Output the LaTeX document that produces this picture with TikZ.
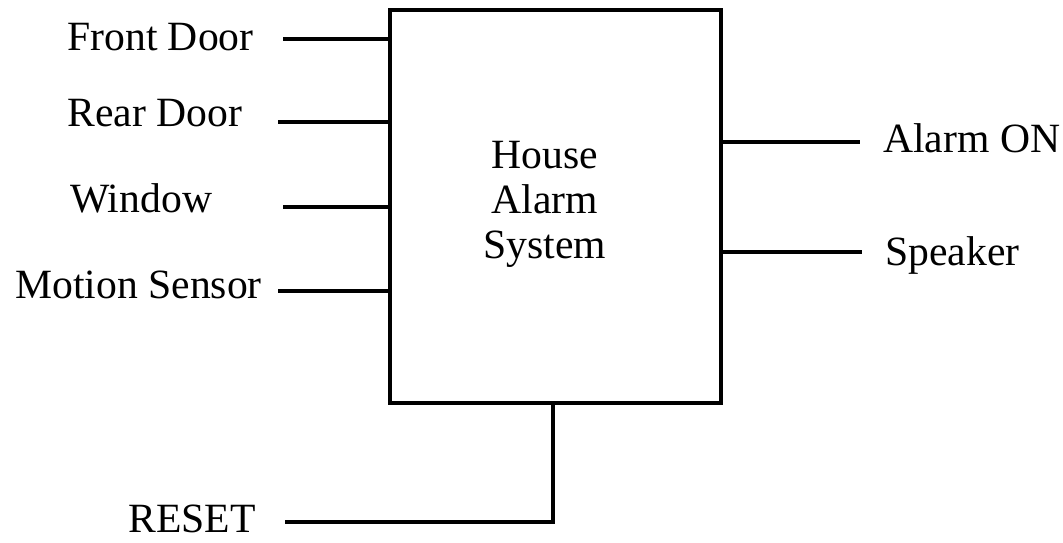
\documentclass[tikz,border=0pt]{standalone}
\usepackage{fontspec}
\setmainfont{Liberation Serif}
\usetikzlibrary{positioning}
\tikzset{
	sigline/.style={draw, line width=1.9pt},
	siglabel/.style={
		font=\fontsize{23.7}{25.6}\selectfont,
		inner sep=0pt,
		anchor=base west},
	block/.style={
		rectangle,
		draw=black, line width=2pt,
		minimum width=6.62cm,
		minimum height=7.86cm,
		inner sep=0pt},
}
\begin{document}
\begin{tikzpicture}
		[x=0.02cm, y=-0.02cm]
		\useasboundingbox (0,0) rectangle (1063,542);
		% the alarm unit
		\node[block] (sys) at (555.5,206.5) {};
		\node[font=\fontsize{23.7}{25.6}\selectfont, align=center, inner sep=0pt] (syslabel) at (545,204) {House\\Alarm\\System};
		% inputs
		\node[siglabel] (frontdoor) at (67,50) {Front Door};
		\node[siglabel] (reardoor) at (67,126) {Rear Door};
		\node[siglabel] (window) at (70,212) {Window};
		\node[siglabel] (motion) at (15,298) {Motion Sensor};
		\node[siglabel] (reset) at (128,532) {RESET};
		% outputs
		\node[siglabel] (alarmon) at (883,152) {Alarm ON};
		\node[siglabel] (speaker) at (885,265) {Speaker};
		
		\coordinate (fd) at (283,39);
		\coordinate (rd) at (278,122);
		\coordinate (wi) at (283,207);
		\coordinate (ms) at (278,291);
		\coordinate (ao) at (860,142);
		\coordinate (sp) at (862,252);
		\coordinate (rs) at (285,522);
		\coordinate (rsx) at (553,522);
		
		\draw[sigline] (fd) -- (fd -| sys.west);
		\draw[sigline] (rd) -- (rd -| sys.west);
		\draw[sigline] (wi) -- (wi -| sys.west);
		\draw[sigline] (ms) -- (ms -| sys.west);
		\draw[sigline] (ao -| sys.east) -- (ao);
		\draw[sigline] (sp -| sys.east) -- (sp);
		\draw[sigline] (rs) -- (rsx) -- (rsx |- sys.south);
		
\end{tikzpicture}
\end{document}
